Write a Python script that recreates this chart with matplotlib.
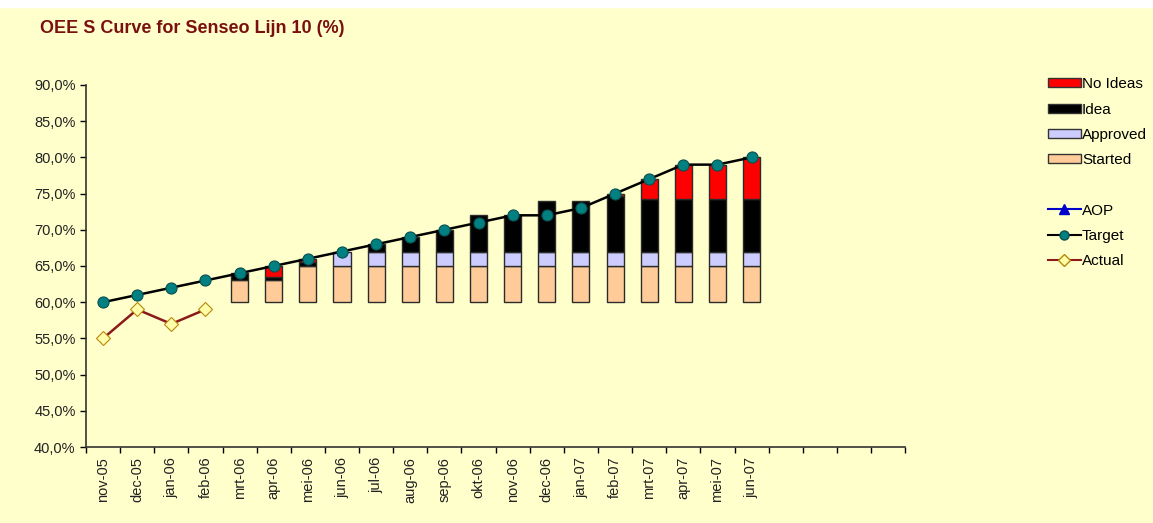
import numpy as np
import matplotlib
matplotlib.use('Agg')
import matplotlib.pyplot as plt
from matplotlib.patches import Patch, Rectangle
from matplotlib.lines import Line2D

plt.rcParams['font.family'] = ['Liberation Sans', 'DejaVu Sans']

# data
months = ['nov-05', 'dec-05', 'jan-06', 'feb-06', 'mrt-06', 'apr-06', 'mei-06', 'jun-06',
          'jul-06', 'aug-06', 'sep-06', 'okt-06', 'nov-06', 'dec-06', 'jan-07', 'feb-07',
          'mrt-07', 'apr-07', 'mei-07', 'jun-07']
n_slots = 24  # axis has 4 empty categories after jun-07
base = 60.0
started = [0, 0, 0, 0, 3, 3, 5, 5, 5, 5, 5, 5, 5, 5, 5, 5, 5, 5, 5, 5]
approved = [0, 0, 0, 0, 0, 0, 0, 2, 2, 2, 2, 2, 2, 2, 2, 2, 2, 2, 2, 2]
idea = [0, 0, 0, 0, 1, 0.5, 0.5, 0, 1, 2, 3, 5, 5, 7, 7, 7.7, 7.3, 7.3, 7.3, 7.3]
no_ideas = [0, 0, 0, 0, 0, 1.5, 0.5, 0, 0, 0, 0, 0, 0, 0, 0, 0.3, 2.7, 4.7, 4.7, 5.7]
target = [60, 61, 62, 63, 64, 65, 66, 67, 68, 69, 70, 71, 72, 72, 73, 75, 77, 79, 79, 80]
actual = [55, 59, 57, 59]

bg = '#FFFFCC'
fig = plt.figure(figsize=(11.53, 5.23), dpi=100, facecolor=bg)
fig.patches.append(Rectangle((0, 0.986), 1, 0.014, transform=fig.transFigure,
                             color='white', zorder=0))
ax = fig.add_axes([0.0746, 0.1453, 0.7105, 0.6922])
ax.set_facecolor(bg)

x = np.arange(len(months))
stack = [(started, '#FFCC99'), (approved, '#CCCCFF'),
         (idea, '#000000'), (no_ideas, '#FF0000')]
bottom = np.full(len(months), base)
for vals, col in stack:
    v = np.array(vals, dtype=float)
    m = v > 0
    ax.bar(x[m], v[m], bottom=bottom[m], width=0.5, color=col,
           edgecolor='#2b2b2b', linewidth=1.0, zorder=2)
    bottom = bottom + v

ax.plot(x, target, color='black', lw=1.8, marker='o', ms=8,
        mfc='#008080', mec='#0b5050', mew=0.8, zorder=4)
ax.plot(x[:len(actual)], actual, color='#8B1A1A', lw=1.8, marker='D', ms=7.5,
        mfc='#FFFFAA', mec='#B8860B', mew=0.8, zorder=4)

ax.set_xlim(-0.5, n_slots - 0.5)
ax.set_ylim(40, 90)
ax.set_yticks(np.arange(40, 91, 5))
ax.set_yticklabels([('%.1f%%' % v).replace('.', ',') for v in np.arange(40, 91, 5)],
                   fontsize=10.5, color='#222222')
ax.set_xticks(x)
ax.set_xticklabels(months, rotation=90, fontsize=10.5, color='#222222')
ax.set_xticks(np.arange(-0.5, n_slots, 1), minor=True)
ax.tick_params(axis='x', which='major', length=0, pad=7)
ax.tick_params(axis='x', which='minor', length=4, direction='out', width=1)
ax.tick_params(axis='y', length=4, width=1, direction='out')
for s in ['top', 'right']:
    ax.spines[s].set_visible(False)
for s in ['left', 'bottom']:
    ax.spines[s].set_color('#333333')
    ax.spines[s].set_linewidth(1.2)

fig.text(0.035, 0.946, 'OEE S Curve for Senseo Lijn 10 (%)', fontsize=13,
         fontweight='bold', color='#7B1010', va='center')

h1 = [Patch(facecolor='#FF0000', edgecolor='#333333', label='No Ideas'),
      Patch(facecolor='#000000', edgecolor='#333333', label='Idea'),
      Patch(facecolor='#CCCCFF', edgecolor='#333333', label='Approved'),
      Patch(facecolor='#FFCC99', edgecolor='#333333', label='Started')]
fig.legend(handles=h1, loc='upper left', bbox_to_anchor=(0.904, 0.864),
           frameon=False, fontsize=11, handlelength=2.1, handleheight=0.55,
           handletextpad=0.1, labelspacing=0.74, borderaxespad=0)
h2 = [Line2D([], [], color='#0000CC', marker='^', ms=7, mfc='#0000CC', label='AOP'),
      Line2D([], [], color='black', marker='o', ms=6.5, mfc='#008080', mec='#0b5050',
             label='Target'),
      Line2D([], [], color='#8B1A1A', marker='D', ms=6, mfc='#FFFFAA', mec='#B8860B',
             label='Actual')]
fig.legend(handles=h2, loc='upper left', bbox_to_anchor=(0.904, 0.622),
           frameon=False, fontsize=11, handlelength=2.1, handletextpad=0.1,
           labelspacing=0.74, borderaxespad=0)

fig.savefig('out.png', dpi=100, facecolor=bg)
